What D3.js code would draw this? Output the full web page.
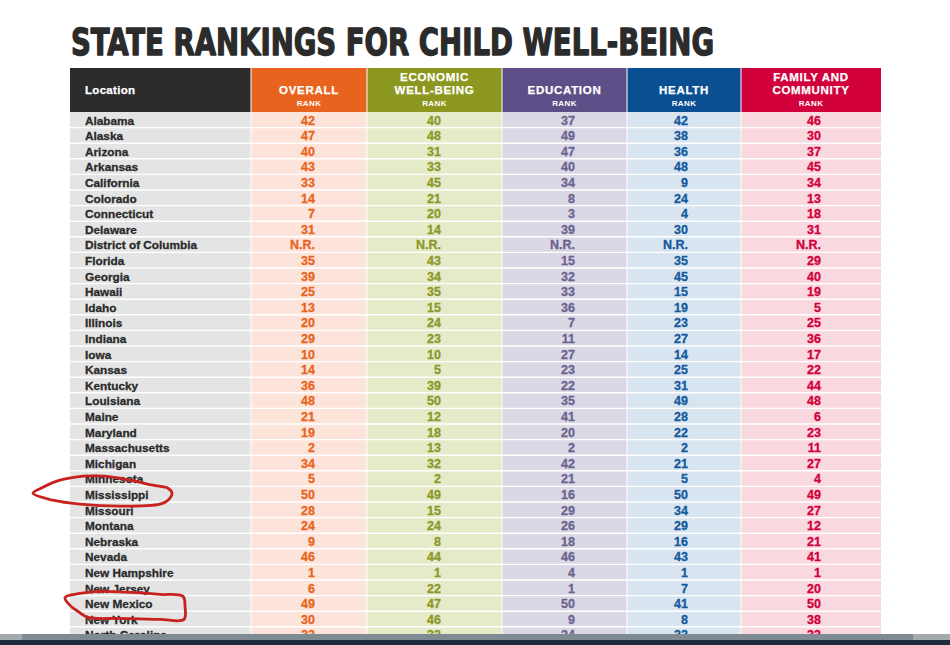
<!DOCTYPE html>
<html>
<head>
<meta charset="utf-8">
<script src="https://cdn.jsdelivr.net/npm/d3@7"></script>
<style>
html,body{margin:0;padding:0;background:#fff;}
svg{display:block;}
</style>
</head>
<body>
<svg id="chart" width="950" height="645"></svg>
<script>
// ---------- DATA ----------
const title = "STATE RANKINGS FOR CHILD WELL-BEING";
const states = ["Alabama","Alaska","Arizona","Arkansas","California","Colorado","Connecticut","Delaware","District of Columbia","Florida","Georgia","Hawaii","Idaho","Illinois","Indiana","Iowa","Kansas","Kentucky","Louisiana","Maine","Maryland","Massachusetts","Michigan","Minnesota","Mississippi","Missouri","Montana","Nebraska","Nevada","New Hampshire","New Jersey","New Mexico","New York","North Carolina"];
const overall   = [42,47,40,43,33,14,7,31,"N.R.",35,39,25,13,20,29,10,14,36,48,21,19,2,34,5,50,28,24,9,46,1,6,49,30,33];
const economic  = [40,48,31,33,45,21,20,14,"N.R.",43,34,35,15,24,23,10,5,39,50,12,18,13,32,2,49,15,24,8,44,1,22,47,46,33];
const education = [37,49,47,40,34,8,3,39,"N.R.",15,32,33,36,7,11,27,23,22,35,41,20,2,42,21,16,29,26,18,46,4,1,50,9,24];
const health    = [42,38,36,48,9,24,4,30,"N.R.",35,45,15,19,23,27,14,25,31,49,28,22,2,21,5,50,34,29,16,43,1,7,41,8,33];
const family    = [46,30,37,45,34,13,18,31,"N.R.",29,40,19,5,25,36,17,22,44,48,6,23,11,27,4,49,27,12,21,41,1,20,50,38,33];
const columnKeys = ["location","overall","economic","education","health","family"];
const headerLines = {
  location: ["Location"],
  overall: ["OVERALL"],
  economic: ["ECONOMIC","WELL-BEING"],
  education: ["EDUCATION"],
  health: ["HEALTH"],
  family: ["FAMILY AND","COMMUNITY"]
};
const circled = ["Mississippi","New Mexico"];

// ---------- LAYOUT / STYLE ----------
const colEdges = {location:[70,251],overall:[251,367],economic:[367,502],education:[502,627],health:[627,741],family:[741,881]};
const numRight = {overall:315,economic:441,education:575,health:688,family:821};
const style = {
  location:{head:"#2c2c2c",cell:"#e4e4e4",text:"#2a2a2a"},
  overall:{head:"#e8641e",cell:"#fde4db",text:"#e8641e"},
  economic:{head:"#8b971f",cell:"#e5eac8",text:"#8a992a"},
  education:{head:"#5d4e87",cell:"#dbd7e4",text:"#6c6390"},
  health:{head:"#0b4f93",cell:"#d8e5f0",text:"#15599c"},
  family:{head:"#d1003b",cell:"#f9d8e0",text:"#d1003b"}
};
const values = {overall, economic, education, health, family};

const svg = d3.select("#chart");
const font = "'Liberation Sans', Arial, sans-serif";

// title
svg.append("text")
  .attr("x",71).attr("y",55)
  .attr("font-family","'DejaVu Sans Condensed', 'Liberation Sans Narrow', sans-serif")
  .attr("font-weight","bold").attr("font-size",37)
  .attr("fill","#2b2b2b").attr("stroke","#2b2b2b").attr("stroke-width",1.3)
  .attr("stroke-linejoin","round")
  .attr("textLength",643).attr("lengthAdjust","spacingAndGlyphs")
  .text(title);

const headTop = 68, headBottom = 112, rowH = 15.6;
const y = d3.scaleBand().domain(states).range([headBottom, headBottom + rowH*states.length]);

// header cells
const hg = svg.append("g");
columnKeys.forEach(k=>{
  const [x0,x1] = colEdges[k];
  hg.append("rect").attr("x",x0).attr("y",headTop).attr("width",x1-x0).attr("height",headBottom-headTop)
    .attr("fill",style[k].head);
  const lines = headerLines[k];
  const cx = (x0+x1)/2;
  if(k==="location"){
    hg.append("text").attr("x",85).attr("y",94).attr("fill","#fff")
      .attr("font-family",font).attr("font-weight","bold").attr("font-size",11.5)
      .attr("letter-spacing",0.3).attr("stroke","#fff").attr("stroke-width",0.25).text(lines[0]);
  } else {
    const baselines = lines.length===2 ? [81,94] : [94];
    lines.forEach((t,i)=>{
      hg.append("text").attr("x",cx).attr("y",baselines[i]).attr("text-anchor","middle")
        .attr("fill","#fff").attr("font-family",font).attr("font-weight","bold")
        .attr("stroke","#fff").attr("stroke-width",0.25)
        .attr("font-size",11.5).attr("letter-spacing",0.7).text(t);
    });
    hg.append("text").attr("x",cx).attr("y",106).attr("text-anchor","middle")
      .attr("fill","#fff").attr("font-family",font).attr("font-weight","bold")
      .attr("font-size",8).attr("letter-spacing",0.4).text("RANK");
  }
});
// header separators
columnKeys.slice(1).forEach(k=>{
  hg.append("line").attr("x1",colEdges[k][0]).attr("x2",colEdges[k][0])
    .attr("y1",headTop).attr("y2",headBottom).attr("stroke","#fff").attr("stroke-width",1);
});

// body cells
const bg = svg.append("g");
columnKeys.forEach(k=>{
  const [x0,x1] = colEdges[k];
  bg.selectAll(null).data(states).join("rect")
    .attr("x",x0).attr("y",d=>y(d)).attr("width",x1-x0).attr("height",y.bandwidth())
    .attr("fill",style[k].cell);
});
// row separators
bg.selectAll(null).data(states.slice(1)).join("line")
  .attr("x1",70).attr("x2",881).attr("y1",d=>y(d)).attr("y2",d=>y(d))
  .attr("stroke","#fff").attr("stroke-width",1.4);
// column separators
columnKeys.slice(1).forEach(k=>{
  bg.append("line").attr("x1",colEdges[k][0]).attr("x2",colEdges[k][0])
    .attr("y1",headBottom).attr("y2",headBottom+rowH*states.length)
    .attr("stroke","#fff").attr("stroke-width",1);
});

// state names
bg.selectAll(null).data(states).join("text")
  .attr("x",85).attr("y",d=>y(d)+12.6)
  .attr("font-family",font).attr("font-weight","bold").attr("font-size",11.8)
  .attr("stroke",style.location.text).attr("stroke-width",0.3)
  .attr("fill",style.location.text).text(d=>d);

// numbers
Object.keys(values).forEach(k=>{
  bg.selectAll(null).data(values[k]).join("text")
    .attr("x",numRight[k]).attr("y",(d,i)=>y(states[i])+12.6)
    .attr("text-anchor","end")
    .attr("font-family",font).attr("font-weight","bold").attr("font-size",12.5)
    .attr("stroke",style[k].text).attr("stroke-width",0.3)
    .attr("fill",style[k].text).text(d=>d);
});

// hand-drawn red annotations around circled states (relative to row centre)
const pen = d3.line().curve(d3.curveCatmullRom.alpha(0.5));
const shapes = {
  "Mississippi": [[-2,-18],[20,-18],[45,-14],[68,-9],[83,-6],[87,-1],[83,6],[75,10],[35,12],[-5,10],[-32,6],[-52,-1],[-42,-7],[-25,-14],[-2,-18]],
  "New Mexico": [[15,-12],[-5,-10],[-20,-6],[-15,2],[-7,8],[3,14],[35,15],[75,16],[99,16],[100,3],[98,-7],[75,-9],[45,-11],[18,-12]]
};
circled.forEach(s=>{
  const cy = y(s)+y.bandwidth()/2;
  const pts = shapes[s].map(p=>[85+p[0], cy+p[1]]);
  svg.append("path").attr("d",pen(pts)).attr("fill","none")
    .attr("stroke","#c8221f").attr("stroke-width",2.8).attr("stroke-linecap","round").attr("stroke-linejoin","round");
});
svg.append("circle").attr("cx",99).attr("cy",y("New Mexico")+y.bandwidth()/2-12).attr("r",2.2).attr("fill","#c8221f");

// bottom screen bar (screenshot taskbar)
svg.append("rect").attr("x",0).attr("y",634).attr("width",950).attr("height",6).attr("fill","#7f8b92");
svg.append("rect").attr("x",0).attr("y",634).attr("width",22).attr("height",6).attr("fill","#a4abaf");
svg.append("rect").attr("x",913).attr("y",634).attr("width",37).attr("height",6).attr("fill","#a4abaf");
svg.append("rect").attr("x",0).attr("y",640).attr("width",950).attr("height",5).attr("fill","#1f2b3b");
</script>
</body>
</html>
